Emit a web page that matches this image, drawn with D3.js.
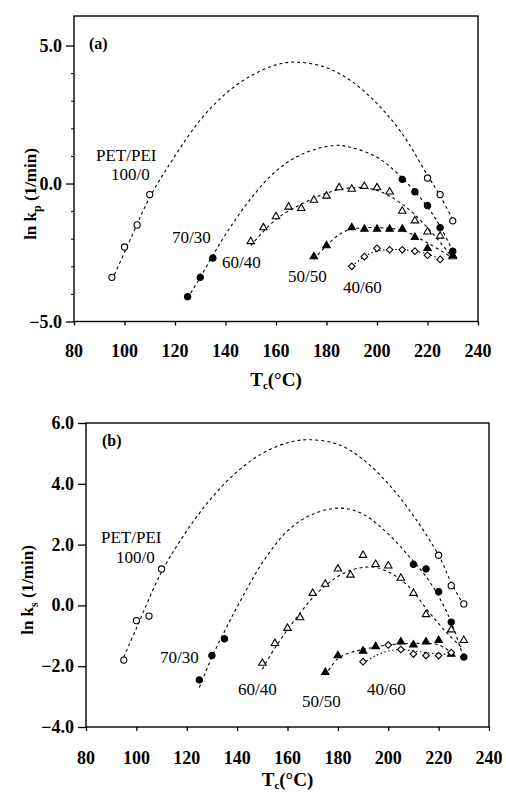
<!DOCTYPE html>
<html>
<head>
<meta charset="utf-8">
<script src="https://cdn.jsdelivr.net/npm/d3@7"></script>
<style>
  body { margin: 0; background: #fff; }
  text { font-family: "Liberation Serif", "Times New Roman", serif; fill: #000; }
</style>
</head>
<body>
<div id="canvas"></div>
<script>
// data: T (deg C) and ln k

var xTicks = [80, 100, 120, 140, 160, 180, 200, 220, 240];

// (a) ln kp
var aT_100_0 = [95, 100, 105, 110, 220, 225, 230];
var aY_100_0 = [-3.4, -2.3, -1.5, -0.4, 0.2, -0.4, -1.35];
var aT_70_30 = [125, 130, 135, 210, 215, 220, 225, 230];
var aY_70_30 = [-4.1, -3.4, -2.7, 0.15, -0.3, -0.8, -1.6, -2.45];
var aT_60_40 = [150, 155, 160, 165, 170, 175, 180, 185, 190, 195, 200, 205, 210, 215, 220, 225, 230];
var aY_60_40 = [-2.1, -1.6, -1.2, -0.85, -0.9, -0.6, -0.45, -0.15, -0.2, -0.1, -0.15, -0.3, -1.0, -1.35, -1.75, -1.9, -2.65];
var aT_50_50 = [175, 180, 190, 195, 200, 205, 210, 215, 220, 230];
var aY_50_50 = [-2.65, -2.25, -1.6, -1.65, -1.65, -1.65, -1.65, -1.95, -2.35, -2.6];
var aT_40_60 = [190, 195, 200, 205, 210, 215, 220, 225];
var aY_40_60 = [-3.0, -2.65, -2.35, -2.4, -2.4, -2.45, -2.6, -2.75];

// (a) fitted curves
var aFitT_100_0 = [95, 100, 110, 120, 130, 140, 150, 160, 168, 180, 190, 200, 210, 220, 225, 230];
var aFitY_100_0 = [-3.5, -2.5, -0.5, 1.0, 2.3, 3.25, 3.9, 4.3, 4.4, 4.2, 3.7, 2.9, 1.8, 0.3, -0.45, -1.3];
var aFitT_70_30 = [125, 130, 135, 140, 150, 160, 170, 183, 190, 200, 210, 220, 225, 230];
var aFitY_70_30 = [-4.15, -3.4, -2.6, -1.85, -0.55, 0.45, 1.05, 1.38, 1.3, 0.95, 0.2, -0.85, -1.55, -2.45];
var aFitT_60_40 = [150, 160, 170, 180, 190, 200, 210, 220, 230];
var aFitY_60_40 = [-2.25, -1.3, -0.75, -0.35, -0.15, -0.25, -0.75, -1.6, -2.7];
var aFitT_50_50 = [175, 180, 185, 190, 200, 210, 220, 230];
var aFitY_50_50 = [-2.75, -2.25, -1.85, -1.65, -1.6, -1.7, -2.15, -2.7];
var aFitT_40_60 = [190, 195, 200, 210, 220, 225];
var aFitY_40_60 = [-3.0, -2.65, -2.45, -2.4, -2.55, -2.75];

// (b) ln ks
var bT_100_0 = [95, 100, 105, 110, 220, 225, 230];
var bY_100_0 = [-1.8, -0.5, -0.35, 1.2, 1.65, 0.65, 0.05];
var bT_70_30 = [125, 130, 135, 210, 215, 220, 225, 230];
var bY_70_30 = [-2.45, -1.65, -1.1, 1.35, 1.2, 0.45, -0.55, -1.7];
var bT_60_40 = [150, 155, 160, 165, 170, 175, 180, 185, 190, 195, 200, 205, 210, 215, 225, 230];
var bY_60_40 = [-1.9, -1.25, -0.75, -0.4, 0.4, 0.7, 1.2, 1.0, 1.65, 1.35, 1.3, 0.9, 0.4, -0.3, -0.8, -1.15];
var bT_50_50 = [175, 180, 190, 195, 205, 210, 215, 220, 225];
var bY_50_50 = [-2.2, -1.65, -1.5, -1.35, -1.2, -1.3, -1.2, -1.15, -1.6];
var bT_40_60 = [190, 200, 205, 210, 215, 220, 225];
var bY_40_60 = [-1.85, -1.3, -1.45, -1.6, -1.65, -1.65, -1.55];

// (b) fitted curves
var bFitT_100_0 = [95, 100, 110, 120, 130, 140, 150, 160, 168, 180, 190, 200, 210, 220, 225, 230];
var bFitY_100_0 = [-1.7, -0.75, 1.1, 2.45, 3.55, 4.4, 5.0, 5.35, 5.45, 5.3, 4.8, 4.0, 2.95, 1.65, 0.75, 0.0];
var bFitT_70_30 = [125, 130, 135, 140, 150, 160, 170, 181, 190, 200, 210, 215, 220, 225, 230];
var bFitY_70_30 = [-2.7, -1.7, -0.85, -0.05, 1.4, 2.45, 3.0, 3.2, 3.0, 2.35, 1.45, 0.95, 0.3, -0.55, -1.75];
var bFitT_60_40 = [150, 155, 160, 165, 170, 175, 180, 185, 190, 195, 200, 205, 210, 215, 220, 225, 230];
var bFitY_60_40 = [-2.1, -1.4, -0.8, -0.25, 0.25, 0.65, 0.95, 1.15, 1.25, 1.25, 1.1, 0.85, 0.45, -0.1, -0.6, -1.05, -1.45];
var bFitT_50_50 = [175, 180, 185, 190, 200, 210, 220, 225];
var bFitY_50_50 = [-2.3, -1.75, -1.55, -1.45, -1.3, -1.25, -1.3, -1.55];
var bFitT_40_60 = [190, 195, 200, 205, 210, 215, 220, 225];
var bFitY_40_60 = [-1.9, -1.65, -1.5, -1.45, -1.5, -1.55, -1.6, -1.6];

function zip(xs, ys) {
  return xs.map(function(x, i) { return [x, ys[i]]; });
}

var svg = d3.select('#canvas').append('svg')
  .attr('width', 506)
  .attr('height', 792);

function drawPanel(cfg) {
  var x = d3.scaleLinear().domain([80, 240]).range(cfg.xRange);
  var y = d3.scaleLinear().domain(cfg.yDomain).range(cfg.yRange);
  var g = svg.append('g');

  // frame
  g.append('rect')
    .attr('x', x(80)).attr('y', y(cfg.yDomain[1]))
    .attr('width', x(240) - x(80)).attr('height', y(cfg.yDomain[0]) - y(cfg.yDomain[1]))
    .attr('fill', 'none').attr('stroke', '#000').attr('stroke-width', 1.4);

  // x axis
  var xAxis = d3.axisBottom(x).tickValues(xTicks).tickSize(4).tickFormat('');
  g.append('g').attr('transform', 'translate(0,' + y(cfg.yDomain[0]) + ')')
    .call(xAxis)
    .call(function(s) { s.select('.domain').remove(); s.selectAll('line').attr('stroke-width', 1.3); });
  g.selectAll('.xlab').data(xTicks).enter().append('text')
    .attr('x', function(d) { return x(d); })
    .attr('y', cfg.xLabelY)
    .attr('text-anchor', 'middle')
    .style('font-size', '18px').style('font-weight', 'bold')
    .text(function(d) { return d; });

  // y axis
  var yAxis = d3.axisLeft(y).tickValues(cfg.yTicks).tickSize(8).tickFormat('');
  g.append('g').attr('transform', 'translate(' + x(80) + ',0)')
    .call(yAxis)
    .call(function(s) { s.select('.domain').remove(); s.selectAll('line').attr('stroke-width', 1.3); });
  if (cfg.yMinor) {
    g.append('g').attr('transform', 'translate(' + x(80) + ',0)')
      .call(d3.axisLeft(y).tickValues(cfg.yMinor).tickSize(3).tickFormat(''))
      .call(function(s) { s.select('.domain').remove(); });
  }
  g.selectAll('.ylab').data(cfg.yTicks).enter().append('text')
    .attr('x', x(80) - 12)
    .attr('y', function(d) { return y(d) + 6; })
    .attr('text-anchor', 'end')
    .style('font-size', '18px').style('font-weight', 'bold')
    .text(d3.format('.1f'));

  // fitted curves
  var line = d3.line()
    .x(function(d) { return x(d[0]); })
    .y(function(d) { return y(d[1]); })
    .curve(d3.curveCatmullRom);
  cfg.fits.forEach(function(f) {
    g.append('path').datum(zip(f.t, f.v))
      .attr('d', line)
      .attr('fill', 'none').attr('stroke', '#000')
      .attr('stroke-width', 1.1)
      .attr('stroke-dasharray', f.dash);
  });

  // markers
  cfg.series.forEach(function(s) {
    var sym = d3.symbol().type(s.shape).size(s.size);
    g.selectAll(null).data(zip(s.t, s.v)).enter().append('path')
      .attr('d', sym)
      .attr('transform', function(d) {
        return 'translate(' + x(d[0]) + ',' + y(d[1]) + ')' + (s.rot ? ' rotate(45)' : '');
      })
      .attr('fill', s.filled ? '#000' : '#fff')
      .attr('stroke', '#000').attr('stroke-width', 1.1);
  });

  // series labels
  cfg.labels.forEach(function(l) {
    g.append('text').attr('x', l[1]).attr('y', l[2])
      .style('font-size', '17px').text(l[0]);
  });

  g.append('text').attr('x', cfg.tag[1]).attr('y', cfg.tag[2])
    .style('font-size', '16px').style('font-weight', 'bold').text(cfg.tag[0]);

  // x title
  var xt = g.append('text').attr('x', (x(80) + x(240)) / 2).attr('y', cfg.xTitleY)
    .attr('text-anchor', 'middle')
    .style('font-size', '19px').style('font-weight', 'bold');
  xt.append('tspan').text('T');
  xt.append('tspan').attr('dy', 3).style('font-size', '11px').text('c');
  xt.append('tspan').attr('dy', -3).text('(°C)');

  // y title
  var yt = g.append('text')
    .attr('transform', 'translate(' + cfg.yTitle[0] + ',' + cfg.yTitle[1] + ') rotate(-90)')
    .attr('text-anchor', 'middle')
    .style('font-size', '17px').style('font-weight', 'bold');
  yt.append('tspan').text('ln k');
  yt.append('tspan').attr('dy', 5).style('font-size', '12px').text(cfg.sub);
  yt.append('tspan').attr('dy', -5).text('  (1/min)');
}

var circ = d3.symbolCircle, tri = d3.symbolTriangle, sq = d3.symbolSquare;

drawPanel({
  xRange: [74, 478],
  yDomain: [-5, 6.07],
  yRange: [321.5, 16],
  yTicks: [-5, 0, 5],
  yMinor: [-4, -3, -2, -1, 1, 2, 3, 4],
  xLabelY: 357,
  xTitleY: 386,
  yTitle: [36, 194],
  sub: 'p',
  tag: ['(a)', 89, 49],
  fits: [
    {t: aFitT_100_0, v: aFitY_100_0, dash: '3,3'},
    {t: aFitT_70_30, v: aFitY_70_30, dash: '3,3'},
    {t: aFitT_60_40, v: aFitY_60_40, dash: '3,3'},
    {t: aFitT_50_50, v: aFitY_50_50, dash: '3,3'},
    {t: aFitT_40_60, v: aFitY_40_60, dash: '1.5,2.5'}
  ],
  series: [
    {t: aT_100_0, v: aY_100_0, shape: circ, size: 30, filled: false},
    {t: aT_70_30, v: aY_70_30, shape: circ, size: 32, filled: true},
    {t: aT_60_40, v: aY_60_40, shape: tri, size: 24, filled: false},
    {t: aT_50_50, v: aY_50_50, shape: tri, size: 24, filled: true},
    {t: aT_40_60, v: aY_40_60, shape: sq, size: 22, filled: false, rot: true}
  ],
  labels: [
    ['PET/PEI', 96, 161], ['100/0', 111, 180], ['70/30', 172, 243],
    ['60/40', 222, 268], ['50/50', 288, 282], ['40/60', 343, 293]
  ]
});

drawPanel({
  xRange: [86, 489],
  yDomain: [-4, 6],
  yRange: [727, 423],
  yTicks: [-4, -2, 0, 2, 4, 6],
  yMinor: null,
  xLabelY: 764,
  xTitleY: 786,
  yTitle: [33, 590],
  sub: 's',
  tag: ['(b)', 102, 446],
  fits: [
    {t: bFitT_100_0, v: bFitY_100_0, dash: '3,3'},
    {t: bFitT_70_30, v: bFitY_70_30, dash: '3,3'},
    {t: bFitT_60_40, v: bFitY_60_40, dash: '3,3'},
    {t: bFitT_50_50, v: bFitY_50_50, dash: '3,3'},
    {t: bFitT_40_60, v: bFitY_40_60, dash: '1.5,2.5'}
  ],
  series: [
    {t: bT_100_0, v: bY_100_0, shape: circ, size: 30, filled: false},
    {t: bT_70_30, v: bY_70_30, shape: circ, size: 32, filled: true},
    {t: bT_60_40, v: bY_60_40, shape: tri, size: 24, filled: false},
    {t: bT_50_50, v: bY_50_50, shape: tri, size: 24, filled: true},
    {t: bT_40_60, v: bY_40_60, shape: sq, size: 22, filled: false, rot: true}
  ],
  labels: [
    ['PET/PEI', 101, 543], ['100/0', 116, 563], ['70/30', 160, 663],
    ['60/40', 238, 695], ['50/50', 302, 707], ['40/60', 367, 695]
  ]
});
</script>
</body>
</html>
